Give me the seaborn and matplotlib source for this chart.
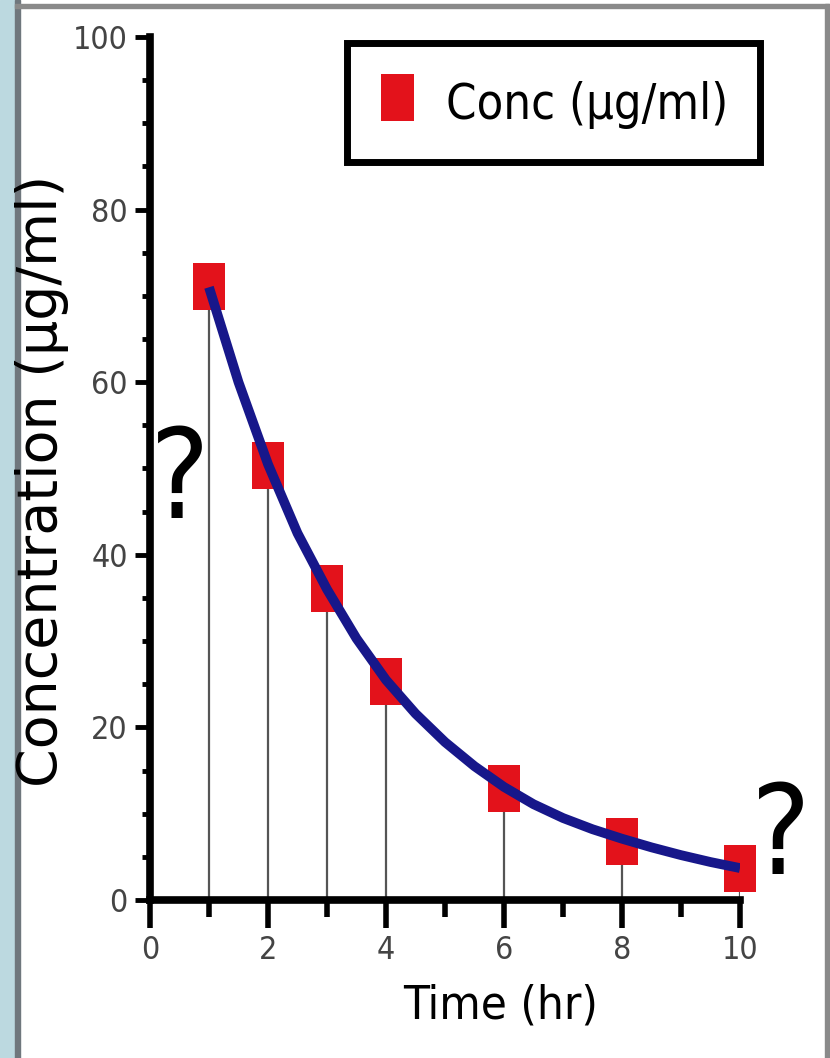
import matplotlib
matplotlib.use("Agg")
import matplotlib.pyplot as plt
from matplotlib.patches import Rectangle
from matplotlib.ticker import MultipleLocator
import seaborn as sns

# ----------- DATA ------------
time_hr = [1, 2, 3, 4, 6, 8, 10]
conc = [71.1, 50.3, 36.1, 25.3, 12.9, 6.8, 3.7]

# fitted curve
curve_t = [1, 1.5, 2, 2.5, 3, 3.5, 4, 4.5, 5, 5.5, 6, 6.5, 7, 7.5, 8, 8.5, 9, 9.5, 10]
curve_c = [71.0, 60.0, 50.5, 42.5, 36.0, 30.3, 25.5, 21.6, 18.3, 15.5, 13.1,
           11.1, 9.5, 8.2, 7.1, 6.1, 5.2, 4.4, 3.7]

x_ticks = [0, 2, 4, 6, 8, 10]
y_ticks = [0, 20, 40, 60, 80, 100]

series_label = "Conc (\u03bcg/ml)"
x_label = "Time (hr)"
y_label = "Concentration (\u03bcg/ml)"

RED = "#e3121b"
NAVY = "#17178a"
NARROW = ["Liberation Sans Narrow", "DejaVu Sans"]

sns.set_theme(style="white")
plt.rcParams["font.family"] = ["DejaVu Sans"]

fig = plt.figure(figsize=(8.3, 10.58), dpi=100)
W, H = 830, 1058

# slide-like frame around the chart
fig.patches.append(Rectangle((0, 0), 15 / W, 1, transform=fig.transFigure,
                             color="#bcd9e0", zorder=-2))
fig.patches.append(Rectangle((15 / W, 0), 5 / W, 1, transform=fig.transFigure,
                             color="#6f777d", zorder=-1))
fig.patches.append(Rectangle((15 / W, 1 - 8 / H), 815 / W, 4 / H,
                             transform=fig.transFigure, color="#8a8a8a", zorder=-1))
fig.patches.append(Rectangle((825 / W, 0), 4 / W, 1 - 4 / H,
                             transform=fig.transFigure, color="#8a8a8a", zorder=-1))

ax = fig.add_axes([150 / W, 1 - 900 / H, 590 / W, 863 / H])
ax.set_facecolor("none")

# stems down to the time axis
ax.vlines(time_hr, 0, conc, color="#555555", lw=1.6, zorder=2)

rect = [(-1, -1.45), (1, -1.45), (1, 1.45), (-1, 1.45), (-1, -1.45)]
sns.scatterplot(x=time_hr, y=conc, ax=ax, marker=rect, s=1150, color=RED,
                edgecolor="none", label=series_label, clip_on=False, zorder=3)
sns.lineplot(x=curve_t, y=curve_c, ax=ax, color=NAVY, lw=7, zorder=4,
             legend=False, solid_capstyle="butt")

ax.set_xlim(0, 10)
ax.set_ylim(0, 100)
ax.set_xticks(x_ticks)
ax.set_yticks(y_ticks)
ax.xaxis.set_minor_locator(MultipleLocator(1))
ax.yaxis.set_minor_locator(MultipleLocator(5))

for side in ["top", "right"]:
    ax.spines[side].set_visible(False)
for side in ["left", "bottom"]:
    ax.spines[side].set_linewidth(5.5)
    ax.spines[side].set_color("black")

ax.tick_params(axis="x", which="major", direction="out", length=20, width=4,
               color="black", pad=5, labelsize=23, labelcolor="#444444", bottom=True)
ax.tick_params(axis="x", which="minor", direction="out", length=12, width=4,
               color="black", bottom=True)
ax.tick_params(axis="y", which="major", direction="out", length=11, width=3.5,
               color="black", pad=5, labelsize=23, labelcolor="#444444", left=True)
ax.tick_params(axis="y", which="minor", direction="out", length=6, width=3.5,
               color="black", left=True)
for lab in ax.get_xticklabels() + ax.get_yticklabels():
    lab.set_family(NARROW)
    lab.set_stretch("condensed")

ax.set_xlabel(x_label, family=NARROW, stretch="condensed", fontsize=34, color="black")
ax.set_ylabel(y_label, family=["DejaVu Sans"], fontsize=40, color="black")
ax.xaxis.set_label_coords(0.595, -0.097)
ax.yaxis.set_label_coords(-0.138, 0.486)

# question marks for the unknown ends of the curve
ax.text(0.51, 48.3, "?", family=NARROW, stretch="condensed", fontsize=90,
        ha="center", va="center", color="black")
ax.text(10.69, 7.0, "?", family=NARROW, stretch="condensed", fontsize=90,
        ha="center", va="center", color="black", clip_on=False)

leg = ax.legend(loc="upper right", bbox_to_anchor=(1.034, 0.993),
                frameon=True, fancybox=False, framealpha=1, edgecolor="black",
                prop={"family": NARROW, "stretch": "condensed", "size": 35},
                borderpad=0.65, handlelength=0.8, handleheight=1.4,
                handletextpad=0.6, borderaxespad=0)
leg.get_frame().set_linewidth(5)
for t in leg.get_texts():
    t.set_color("black")

fig.savefig("out.png", dpi=100, facecolor="white")
